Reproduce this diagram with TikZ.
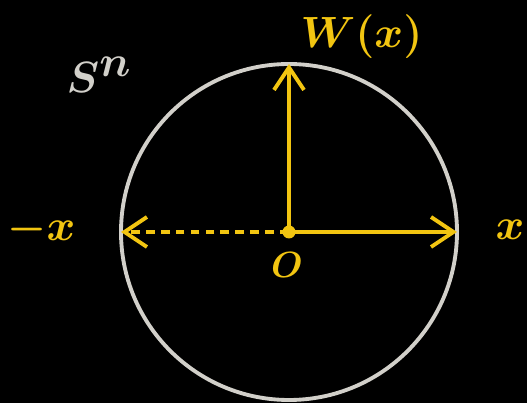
\documentclass[tikz,border=0pt]{standalone}
\usetikzlibrary{arrows.meta}
\definecolor{chalkyellow}{HTML}{F2C511}
\definecolor{chalkgray}{HTML}{D2D0CA}
\tikzset{
  vec/.style={-{Straight Barb[length=4.5mm,width=6mm]}, chalkyellow, line width=2.2pt},
  lbl/.style={text=chalkyellow, inner sep=0pt},
}
\begin{document}
\begin{tikzpicture}
  \fill [black] (-5.78,-3.42) rectangle (4.76,4.64);
  \draw [chalkgray, line width=2.2pt] (0,0) circle (3.36cm);
  \node (o) [circle, fill=chalkyellow, inner sep=0pt, minimum size=0.26cm] at (0,0) {};
  \coordinate (xr) at (3.36,0);
  \coordinate (xl) at (-3.36,0);
  \coordinate (wx) at (0,3.36);
  \draw[vec] (o.center) -- (xr);
  \draw[vec] (o.center) -- (wx);
  \draw[vec, dash pattern=on 5pt off 3.5pt] (o.center) -- (xl);
  \node (lxr) [lbl, font=\fontsize{42}{46}\selectfont\boldmath] at (4.42,0.05) {$x$};
  \node (lxl) [lbl, font=\fontsize{42}{46}\selectfont\boldmath] at (-4.95,0.05) {$-x$};
  \node (lwx) [lbl, font=\fontsize{29}{33}\selectfont\boldmath] at (1.45,3.9) {$W(x)$};
  \node (lo) [lbl, font=\fontsize{22}{26}\selectfont\boldmath] at (-0.04,-0.66) {$O$};
  \node (sn) [text=chalkgray, inner sep=0pt, font=\fontsize{50}{54}\selectfont\boldmath] at (-3.8,3.15) {$S^n$};
\end{tikzpicture}
\end{document}
